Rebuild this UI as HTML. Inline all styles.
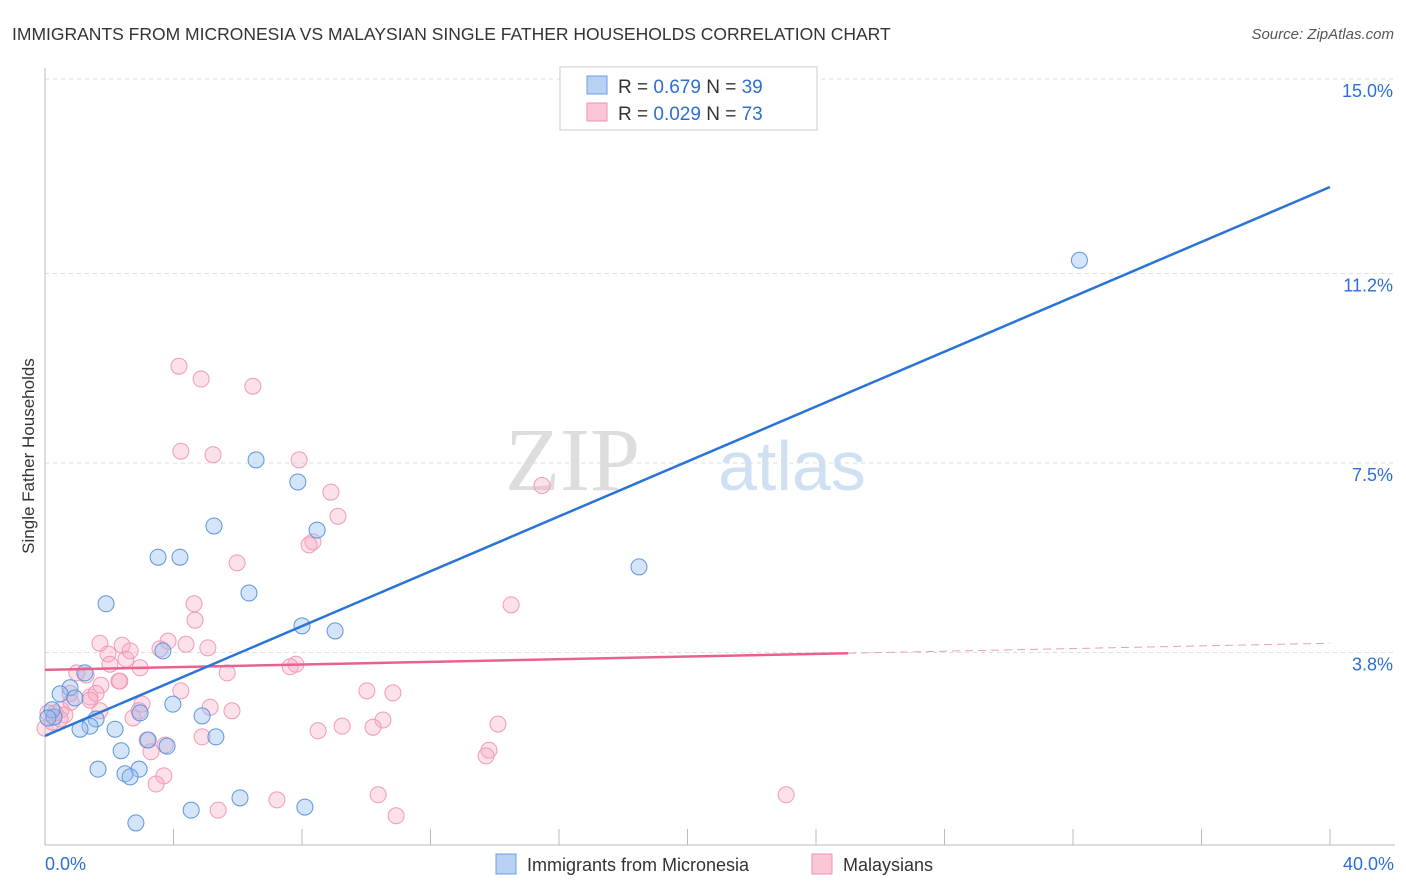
<!DOCTYPE html>
<html><head><meta charset="utf-8"><style>
body{margin:0;background:#fff;font-family:"Liberation Sans",sans-serif;}
svg{display:block}
</style></head><body>
<svg width="1406" height="892" id="chart">
<text x="12" y="40" font-size="17.5" fill="#333">IMMIGRANTS FROM MICRONESIA VS MALAYSIAN SINGLE FATHER HOUSEHOLDS CORRELATION CHART</text>
<text x="1394" y="39" font-size="15" fill="#555" font-style="italic" text-anchor="end">Source: ZipAtlas.com</text>
<text x="640" y="490" font-size="90" fill="#ddd" font-family="Liberation Serif" text-anchor="end">ZIP</text>
<text x="718" y="490" font-size="70" fill="#cfe0f3">atlas</text>
<g id="grid"></g><g id="axes"></g><g id="marks"></g>
<text transform="translate(34,456) rotate(-90)" font-size="17" fill="#333" text-anchor="middle">Single Father Households</text>
<g>
<rect x="560" y="67" width="257" height="63" fill="#fff" stroke="#ccc"/>
<rect x="587" y="76" width="20" height="18" fill="#b7d1f3" stroke="#6a9fe0"/>
<rect x="587" y="103" width="20" height="18" fill="#f9c6d5" stroke="#ef92ae"/>
<text x="618" y="93" font-size="19" fill="#333">R = <tspan fill="#2c6fd1">0.679</tspan>   N = <tspan fill="#2c6fd1">39</tspan></text>
<text x="618" y="120" font-size="19" fill="#333">R = <tspan fill="#2c6fd1">0.029</tspan>   N = <tspan fill="#2c6fd1">73</tspan></text>
</g>
<g>
<rect x="496" y="854" width="20" height="20" fill="#b7d1f3" stroke="#6a9fe0"/>
<text x="527" y="871" font-size="18" fill="#333">Immigrants from Micronesia</text>
<rect x="812" y="854" width="20" height="20" fill="#f9c6d5" stroke="#ef92ae"/>
<text x="843" y="871" font-size="18" fill="#333">Malaysians</text>
</g>
</svg>
<script>
const yTicks=[3.8,7.5,11.2,15.0];
const yTickLabels=["3.8%","7.5%","11.2%","15.0%"];
const xTicks=[0,4,8,12,16,20,24,28,32,36,40];
const blueX=[32.2,6.57,7.87,5.26,8.47,3.52,4.2,18.49,6.35,1.9,8,9.03,3.67,1.24,0.78,0.47,0.93,3.98,2.96,4.89,0.28,1.59,1.4,2.18,1.09,5.32,3.21,2.37,3.8,1.65,2.93,2.49,2.65,6.07,4.55,8.09,2.83,0.22,0.09];
const blueY=[11.46,7.56,7.13,6.27,6.19,5.66,5.66,5.47,4.96,4.75,4.32,4.22,3.83,3.4,3.11,2.99,2.91,2.79,2.62,2.56,2.54,2.5,2.36,2.3,2.3,2.15,2.09,1.88,1.97,1.52,1.52,1.43,1.37,0.96,0.72,0.78,0.47,2.68,2.52];
const pinkX=[4.17,4.86,6.47,4.23,5.23,7.91,15.47,8.9,9.12,8.34,8.22,5.98,4.64,14.51,4.67,1.71,2.4,3.83,4.39,5.07,3.58,1.96,2.52,2.02,2.96,7.81,7.63,0.99,1.28,4.23,5.67,2.3,10.02,10.83,1.74,3.02,1.4,1.59,5.14,0.81,5.82,2.93,0.5,0.31,0.09,0.62,2.74,10.52,14.1,9.25,8.5,10.21,4.89,3.18,3.3,13.82,13.73,3.7,3.46,10.37,23.07,7.22,5.39,10.93,0,0.22,1.4,2.33,0.78,1.71,3.74,2.65,0.47];
const pinkY=[9.39,9.14,9,7.73,7.66,7.56,7.06,6.93,6.46,5.96,5.9,5.55,4.75,4.73,4.43,3.98,3.94,4.02,3.96,3.89,3.87,3.77,3.67,3.57,3.5,3.57,3.52,3.4,3.36,3.05,3.4,3.24,3.05,3.01,3.16,2.79,2.93,3.0,2.73,2.83,2.66,2.66,2.68,2.62,2.62,2.58,2.52,2.48,2.4,2.36,2.27,2.34,2.15,2.09,1.86,1.89,1.78,1.39,1.23,1.02,1.02,0.92,0.72,0.61,2.32,2.44,2.87,3.24,3.0,2.66,1.99,3.83,2.5];
const blueLine=[2.17,12.89];
const pinkLine=[3.46,3.98];
const pinkSolidEnd=25;
const NS="http://www.w3.org/2000/svg";
const X=v=>45+v*32.125, Y=v=>847-v*51.2;
function mk(tag,attrs,parent){const e=document.createElementNS(NS,tag);for(const k in attrs)e.setAttribute(k,attrs[k]);document.getElementById(parent).appendChild(e);return e;}
yTicks.forEach((t,i)=>{
 const g=mk('line',{x1:45,x2:1395,y1:Y(t),y2:Y(t),stroke:'#ddd','stroke-dasharray':'4,4'},'grid');
 
 
 const l=mk('text',{x:1393,y:Y(t)+18,'font-size':18,fill:'#2c6fd1','text-anchor':'end'},'axes');
 l.textContent=yTickLabels[i];
 
 
});
const ax=mk('line',{x1:45,x2:1395,y1:845,y2:845,stroke:'#bbb'},'axes');


const ay=mk('line',{x1:45,x2:45,y1:68,y2:845,stroke:'#bbb'},'axes');


xTicks.forEach(t=>{const e=mk('line',{x1:X(t),x2:X(t),y1:829,y2:845,stroke:'#bbb'},'axes');
 
 });
[[0,'0.0%','start',45],[40,'40.0%','end',1394]].forEach(a=>{const e=mk('text',{x:a[3],y:870,'font-size':18,fill:'#2c6fd1','text-anchor':a[2]},'axes');e.textContent=a[1];
 
 });
pinkX.forEach((v,i)=>{const c=mk('circle',{cx:X(v),cy:Y(pinkY[i]),r:8,fill:'rgba(246,170,195,0.35)',stroke:'#f09ab5','stroke-width':1},'marks');
 
 });
blueX.forEach((v,i)=>{const c=mk('circle',{cx:X(v),cy:Y(blueY[i]),r:8,fill:'rgba(150,190,240,0.4)',stroke:'#5d95dc','stroke-width':1},'marks');
 
 });
const pm=pinkLine[0]+(pinkLine[1]-pinkLine[0])*pinkSolidEnd/40;
const p1=mk('line',{x1:X(0),y1:Y(pinkLine[0]),x2:X(pinkSolidEnd),y2:Y(pm),stroke:'#e8628c','stroke-width':2.5},'marks');


const p2=mk('line',{x1:X(pinkSolidEnd),y1:Y(pm),x2:X(40),y2:Y(pinkLine[1]),stroke:'#e8a0b8','stroke-width':1,'stroke-dasharray':'8,5'},'marks');


const b=mk('line',{x1:X(0),y1:Y(blueLine[0]),x2:X(40),y2:Y(blueLine[1]),stroke:'#2a74d6','stroke-width':2.5},'marks');


</script>
</body></html>
